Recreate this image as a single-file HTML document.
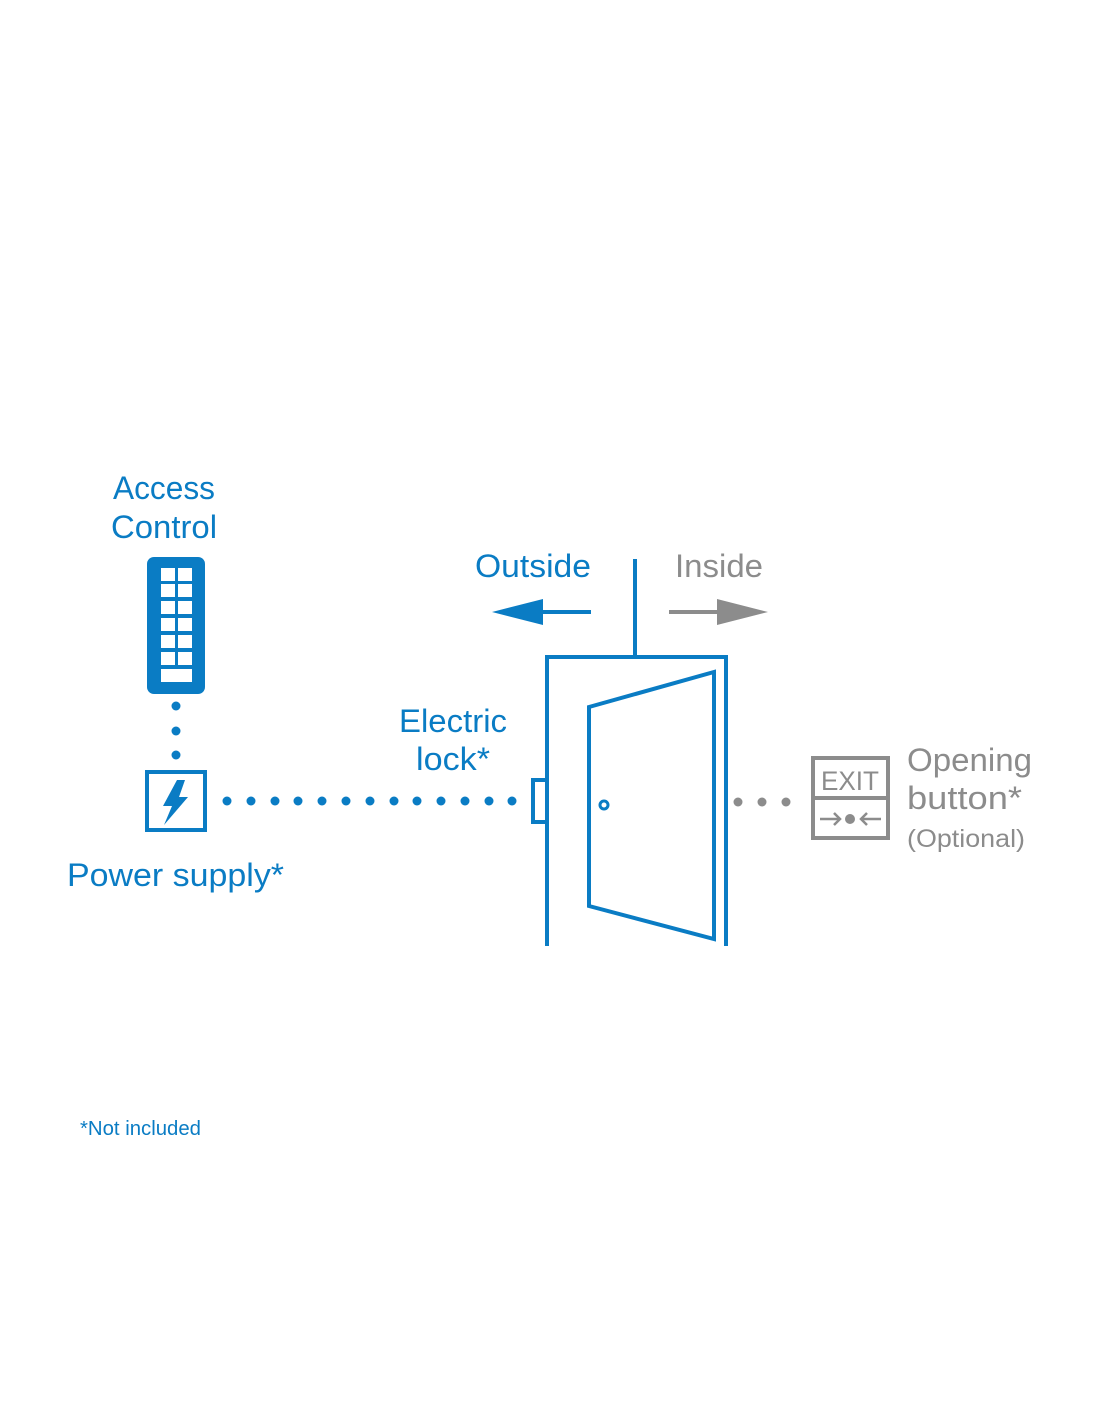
<!DOCTYPE html>
<html><head><meta charset="utf-8"><style>
html,body{margin:0;padding:0;background:#fff;}
svg{display:block;}
text{font-family:"Liberation Sans Narrow","Liberation Sans",sans-serif;}
</style></head><body>
<svg width="1100" height="1422" viewBox="0 0 1100 1422" xmlns="http://www.w3.org/2000/svg">
<g fill="#0a7cc4">
<text x="164" y="499" font-size="32" text-anchor="middle" textLength="102" lengthAdjust="spacingAndGlyphs">Access</text>
<text x="164" y="538" font-size="32" text-anchor="middle" textLength="106" lengthAdjust="spacingAndGlyphs">Control</text>
<text x="533" y="577" font-size="32" text-anchor="middle" textLength="116" lengthAdjust="spacingAndGlyphs">Outside</text>
<text x="453" y="732" font-size="32" text-anchor="middle" textLength="108" lengthAdjust="spacingAndGlyphs">Electric</text>
<text x="453" y="770" font-size="32" text-anchor="middle" textLength="74" lengthAdjust="spacingAndGlyphs">lock*</text>
<text x="67" y="886" font-size="32" textLength="217" lengthAdjust="spacingAndGlyphs">Power supply*</text>
<text x="80" y="1135" font-size="20" textLength="121" lengthAdjust="spacingAndGlyphs">*Not included</text>
</g>
<g fill="#8c8c8c">
<text x="719" y="577" font-size="32" text-anchor="middle" textLength="88" lengthAdjust="spacingAndGlyphs">Inside</text>
<text x="907" y="771" font-size="32" textLength="125" lengthAdjust="spacingAndGlyphs">Opening</text>
<text x="907" y="809" font-size="32" textLength="115" lengthAdjust="spacingAndGlyphs">button*</text>
<text x="907" y="847" font-size="25" textLength="118" lengthAdjust="spacingAndGlyphs">(Optional)</text>
</g>
<!-- keypad -->
<rect x="147" y="557" width="58" height="137" rx="7" fill="#0a7cc4"/>
<g fill="#fff">
<rect x="161" y="568" width="14" height="13"/><rect x="178" y="568" width="14" height="13"/>
<rect x="161" y="584" width="14" height="13"/><rect x="178" y="584" width="14" height="13"/>
<rect x="161" y="601" width="14" height="13"/><rect x="178" y="601" width="14" height="13"/>
<rect x="161" y="618" width="14" height="13"/><rect x="178" y="618" width="14" height="13"/>
<rect x="161" y="635" width="14" height="13"/><rect x="178" y="635" width="14" height="13"/>
<rect x="161" y="652" width="14" height="13"/><rect x="178" y="652" width="14" height="13"/>
<rect x="161" y="669" width="31" height="13"/>
</g>
<g fill="#0a7cc4">
<circle cx="176" cy="706" r="4.5"/><circle cx="176" cy="731" r="4.5"/><circle cx="176" cy="755" r="4.5"/>
</g>
<rect x="147" y="772" width="58" height="58" fill="none" stroke="#0a7cc4" stroke-width="4"/>
<polygon points="177,780 163,806 172,806 164,825 188,797 179,797 185,780" fill="#0a7cc4"/>
<g fill="#0a7cc4">
<circle cx="227" cy="801" r="4.5"/><circle cx="251" cy="801" r="4.5"/><circle cx="275" cy="801" r="4.5"/><circle cx="298" cy="801" r="4.5"/><circle cx="322" cy="801" r="4.5"/><circle cx="346" cy="801" r="4.5"/><circle cx="370" cy="801" r="4.5"/><circle cx="394" cy="801" r="4.5"/><circle cx="417" cy="801" r="4.5"/><circle cx="441" cy="801" r="4.5"/><circle cx="465" cy="801" r="4.5"/><circle cx="489" cy="801" r="4.5"/><circle cx="512" cy="801" r="4.5"/>
</g>
<!-- arrows -->
<line x1="591" y1="612" x2="530" y2="612" stroke="#0a7cc4" stroke-width="4"/>
<polygon points="492,612 543,599 543,625" fill="#0a7cc4"/>
<line x1="669" y1="612" x2="730" y2="612" stroke="#8c8c8c" stroke-width="4"/>
<polygon points="768,612 717,599 717,625" fill="#8c8c8c"/>
<!-- door -->
<g fill="none" stroke="#0a7cc4" stroke-width="4">
<line x1="635" y1="559" x2="635" y2="657"/>
<polyline points="547,946 547,657 726,657 726,946"/>
<rect x="533" y="780" width="14" height="42"/>
<polygon points="589,707 714,672 714,939 589,906"/>
<circle cx="604" cy="805" r="4" stroke-width="3"/>
</g>
<g fill="#8c8c8c">
<circle cx="738" cy="802" r="4.5"/><circle cx="762" cy="802" r="4.5"/><circle cx="786" cy="802" r="4.5"/>
</g>
<rect x="813" y="758" width="75" height="80" fill="none" stroke="#8c8c8c" stroke-width="4"/>
<line x1="813" y1="798" x2="888" y2="798" stroke="#8c8c8c" stroke-width="4"/>
<text x="850" y="790" font-size="27" fill="#8c8c8c" text-anchor="middle" font-family="Liberation Sans, sans-serif" textLength="58" lengthAdjust="spacingAndGlyphs">EXIT</text>
<g stroke="#8c8c8c" stroke-width="2.5" fill="none">
<line x1="820" y1="819" x2="840" y2="819"/><polyline points="834,813 840,819 834,825"/>
<line x1="861" y1="819" x2="881" y2="819"/><polyline points="867,813 861,819 867,825"/>
</g>
<circle cx="850" cy="819" r="5" fill="#8c8c8c"/>
</svg>
</body></html>
